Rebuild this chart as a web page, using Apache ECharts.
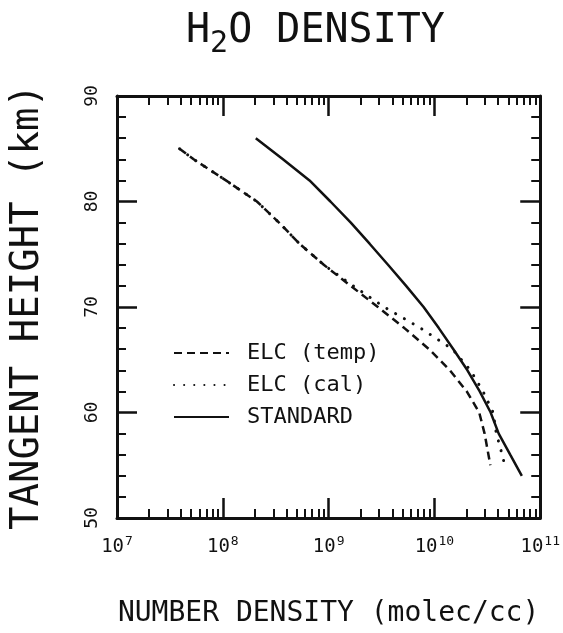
<!DOCTYPE html>
<html>
<head>
<meta charset="utf-8">
<script src="https://cdn.jsdelivr.net/npm/echarts@6/dist/echarts.min.js"></script>
<style>
  html, body { margin: 0; padding: 0; background: #fff; }
  #chart { width: 563px; height: 633px; }
</style>
</head>
<body>
<div id="chart"></div>
<script>
const FONT = 'DejaVu Sans Mono';
const INK = '#111';

// STANDARD profile: tangent height (km) vs number density (molec/cc)
const stdHeights = [86, 84, 82, 80, 78, 76, 74, 72, 70, 68, 66, 64, 62, 60, 58, 56, 54];
const stdDensity = [2.05e8, 3.7e8, 6.6e8, 1.04e9, 1.62e9, 2.44e9, 3.64e9, 5.4e9, 7.9e9,
                    1.1e10, 1.51e10, 2.05e10, 2.68e10, 3.4e10, 4.05e10, 5.2e10, 6.7e10];

// ELC (temp) profile
const tempHeights = [85, 84, 82, 80, 78, 76, 74, 72, 70, 68, 66, 64, 62, 60, 58, 56, 55];
const tempDensity = [3.9e7, 5.3e7, 1.07e8, 2.1e8, 3.4e8, 5.3e8, 9.0e8, 1.62e9, 2.92e9,
                     5.2e9, 8.9e9, 1.4e10, 2.02e10, 2.65e10, 2.98e10, 3.24e10, 3.38e10];

// ELC (cal) profile
const calHeights = [85, 84, 82, 80, 78, 76, 74, 72, 70, 68, 66, 64, 62, 60, 58, 56, 55];
const calDensity = [3.9e7, 5.3e7, 1.07e8, 2.1e8, 3.4e8, 5.3e8, 9.0e8, 1.71e9, 3.35e9,
                    7.4e9, 1.48e10, 2.19e10, 2.88e10, 3.59e10, 3.85e10, 4.37e10, 4.62e10];

// Axis ranges and ticks
const xMin = 1e7, xMax = 1e11;
const yMin = 50, yMax = 90, yStep = 10;
const decades = [7, 8, 9, 10];
const minorFactors = [2, 3, 4, 5, 6, 7, 8, 9];

const seriesNames = ['ELC (temp)', 'ELC (cal)', 'STANDARD'];

function pairs(xs, ys) { return xs.map((x, i) => [x, ys[i]]); }

// minor tick positions on the log10 scale (2..9 within each decade)
const minorTickPos = [];
decades.forEach(d => minorFactors.forEach(f => minorTickPos.push(d + Math.log10(f))));

const chart = echarts.init(document.getElementById('chart'), null, { renderer: 'canvas' });

const frame = { show: true, onZero: false, lineStyle: { color: INK, width: 3 } };

function majorX(position, showLabels) {
  return {
    type: 'log', logBase: 10, min: xMin, max: xMax, position,
    axisLine: frame,
    axisTick: { show: true, inside: true, length: 20, lineStyle: { color: INK, width: 2.5 } },
    minorTick: { show: false },
    splitLine: { show: false },
    axisLabel: showLabels ? {
      margin: 17,
      formatter: v => '{b|10}{s|' + Math.round(Math.log10(v)) + '}',
      rich: {
        b: { fontFamily: FONT, fontSize: 19, color: INK, lineHeight: 22 },
        s: { fontFamily: FONT, fontSize: 13, color: INK, padding: [0, 0, 12, 1] }
      }
    } : { show: false }
  };
}

function minorX(position) {
  return {
    type: 'value', min: 7, max: 11, position,
    axisLine: { show: false },
    axisTick: { show: true, inside: true, length: 9, customValues: minorTickPos,
                lineStyle: { color: INK, width: 2 } },
    axisLabel: { show: false },
    splitLine: { show: false }
  };
}

function yAxis(position, showLabels) {
  return {
    type: 'value', min: yMin, max: yMax, interval: yStep, position,
    axisLine: frame,
    axisTick: { show: true, inside: true, length: 20, lineStyle: { color: INK, width: 2.5 } },
    minorTick: { show: true, splitNumber: 5, length: 9, lineStyle: { color: INK, width: 2 } },
    splitLine: { show: false },
    axisLabel: showLabels ? {
      rotate: 90, margin: 16, fontFamily: FONT, fontSize: 18, color: INK
    } : { show: false },
    name: showLabels ? 'TANGENT HEIGHT (km)' : '',
    nameLocation: 'middle',
    nameRotate: 90,
    nameGap: 70,
    nameTextStyle: { fontFamily: FONT, fontSize: 39, color: INK }
  };
}

const xAxes = [majorX('bottom', true), majorX('top', false), minorX('bottom'), minorX('top')];
xAxes[0].name = 'NUMBER DENSITY (molec/cc)';
xAxes[0].nameLocation = 'middle';
xAxes[0].nameGap = 82;
xAxes[0].nameTextStyle = { fontFamily: FONT, fontSize: 28, color: INK };

const lineBase = { type: 'line', smooth: false, symbol: 'none', xAxisIndex: 0, yAxisIndex: 0, z: 5 };

chart.setOption({
  animation: false,
  backgroundColor: '#fff',
  title: {
    text: '{a|H}{b|2}{a|O DENSITY}',
    left: 181, top: 0,
    textStyle: {
      fontWeight: 'normal',
      rich: {
        a: { fontFamily: FONT, fontSize: 40, fontWeight: 'normal', color: INK },
        b: { fontFamily: FONT, fontSize: 30, fontWeight: 'normal', color: INK, padding: [24, 0, 0, 0] }
      }
    }
  },
  grid: { left: 116, top: 96, width: 426, height: 426, containLabel: false },
  xAxis: xAxes,
  yAxis: [yAxis('left', true), yAxis('right', false)],
  legend: {
    data: seriesNames,
    orient: 'vertical',
    left: 168, top: 337,
    itemWidth: 55, itemHeight: 14, itemGap: 10,
    itemStyle: { opacity: 0 },
    textStyle: { fontFamily: FONT, fontSize: 22, color: INK, lineHeight: 22, padding: [0, 0, 0, 13] }
  },
  series: [
    Object.assign({}, lineBase, {
      name: seriesNames[0],
      data: pairs(tempDensity, tempHeights),
      lineStyle: { color: INK, width: 2.5, type: [8, 5] },
      itemStyle: { color: INK }
    }),
    Object.assign({}, lineBase, {
      name: seriesNames[1],
      data: pairs(calDensity, calHeights),
      lineStyle: { color: INK, width: 3, type: [0.1, 10], cap: 'round' },
      itemStyle: { color: INK }
    }),
    Object.assign({}, lineBase, {
      name: seriesNames[2],
      data: pairs(stdDensity, stdHeights),
      lineStyle: { color: INK, width: 2.5, type: 'solid' },
      itemStyle: { color: INK }
    })
  ]
});
</script>
</body>
</html>
